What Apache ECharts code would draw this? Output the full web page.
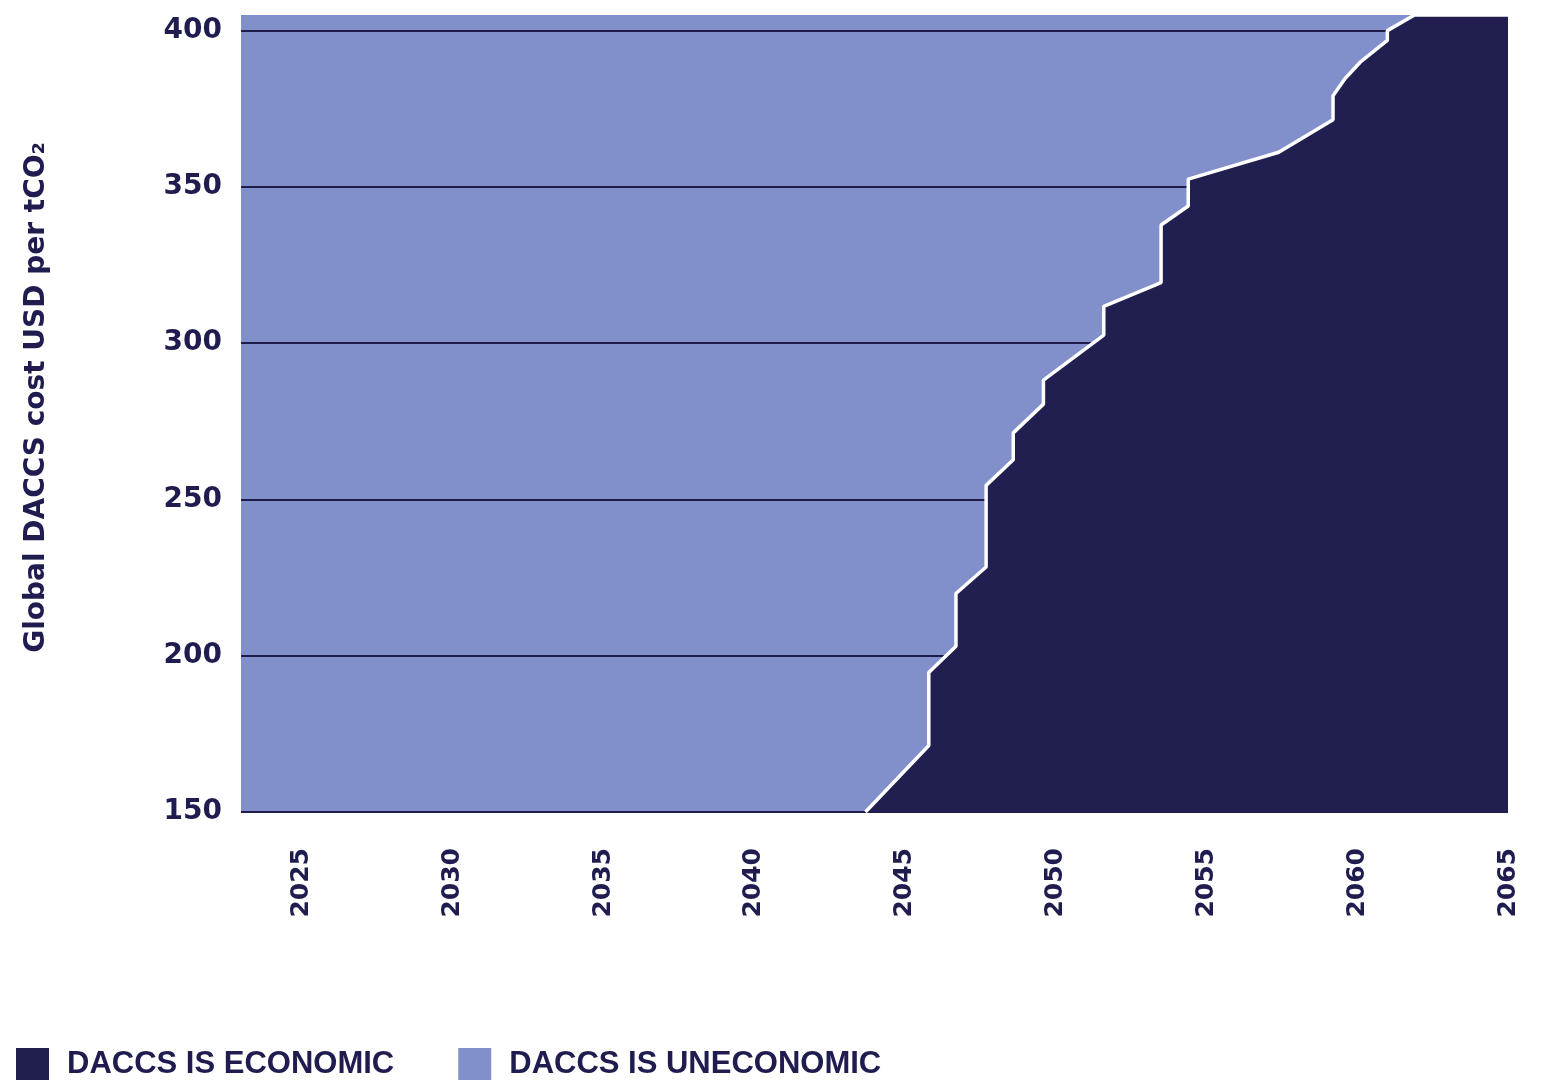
<!DOCTYPE html>
<html>
<head>
<meta charset="utf-8">
<script src="https://cdn.jsdelivr.net/npm/echarts@6/dist/echarts.min.js"></script>
<style>
  html, body { margin: 0; padding: 0; background: #ffffff; }
  #chart { width: 1546px; height: 1081px; }
</style>
</head>
<body>
<div id="chart"></div>
<script>
// Boundary between economic / uneconomic DACCS (year, USD per tCO2)
const boundaryYears = [2043.7, 2045.8, 2045.8, 2046.7, 2046.7, 2047.7, 2047.7, 2048.6, 2048.6, 2049.6, 2049.6, 2051.6, 2051.6, 2053.5, 2053.5, 2054.4, 2054.4, 2057.4, 2059.2, 2059.2, 2059.6, 2060.1, 2061.0, 2061.0, 2061.9, 2065];
const boundaryCost  = [150, 171.3, 194.6, 203, 219.9, 228.4, 254.5, 262.7, 271.3, 280.5, 288.2, 302.6, 311.8, 319.4, 337.8, 343.9, 352.5, 361.1, 371.5, 379.2, 384.7, 389.9, 396.9, 400, 405, 405];
const xTickLabels = [2025, 2030, 2035, 2040, 2045, 2050, 2055, 2060, 2065];
const yTickLabels = [150, 200, 250, 300, 350, 400];
const seriesNames = ['DACCS IS ECONOMIC', 'DACCS IS UNECONOMIC'];
const xRange = [2023, 2065];
const yRange = [150, 405];

const DARK = '#211f50';
const LIGHT = '#8190cb';
const TEXT = '#1f1d4f';

const boundaryData = boundaryYears.map((y, i) => [y, boundaryCost[i]]);
const fullData = [[xRange[0], yRange[1]], [xRange[1], yRange[1]]];

const chart = echarts.init(document.getElementById('chart'), null, { renderer: 'canvas' });
chart.setOption({
  backgroundColor: '#ffffff',
  animation: false,
  grid: { left: 241, right: 38, top: 15, bottom: 269, containLabel: false },
  legend: {
    data: seriesNames,
    left: 16,
    top: 1048,
    padding: 0,
    orient: 'horizontal',
    icon: 'rect',
    itemWidth: 33,
    itemHeight: 32,
    itemGap: 64,
    itemStyle: { borderWidth: 0 },
    textStyle: {
      color: TEXT,
      fontSize: 31,
      fontWeight: 'bold',
      fontFamily: 'Liberation Sans, Arial, sans-serif',
      padding: [0, 0, 0, 13]
    }
  },
  xAxis: {
    type: 'value',
    min: xRange[0],
    max: xRange[1],
    axisLine: { show: false },
    axisTick: { show: false },
    splitLine: { show: false },
    axisLabel: {
      customValues: xTickLabels,
      rotate: 90,
      margin: 36,
      color: TEXT,
      fontSize: 25,
      fontWeight: 'bold',
      fontFamily: 'DejaVu Sans, sans-serif',
      formatter: v => String(v)
    }
  },
  yAxis: {
    type: 'value',
    min: yRange[0],
    max: yRange[1],
    interval: 50,
    z: 1,
    name: 'Global DACCS cost USD per tCO₂',
    nameLocation: 'middle',
    nameRotate: 90,
    nameGap: 190,
    nameTextStyle: {
      color: TEXT,
      fontSize: 28,
      fontWeight: 'bold',
      fontFamily: 'DejaVu Sans, sans-serif',
      padding: [0, 0, 0, 32]
    },
    axisLine: { show: false },
    axisTick: { show: false },
    axisLabel: {
      showMaxLabel: false,
      margin: 19,
      color: TEXT,
      fontSize: 28,
      fontWeight: 'bold',
      fontFamily: 'DejaVu Sans, sans-serif'
    },
    splitLine: {
      show: true,
      showMaxLine: false,
      lineStyle: { color: '#1d1c4a', width: 2 }
    }
  },
  series: [
    {
      name: seriesNames[0],
      type: 'line',
      z: 3,
      data: boundaryData,
      symbol: 'none',
      color: DARK,
      itemStyle: { color: DARK },
      lineStyle: { color: '#ffffff', width: 3.5 },
      areaStyle: { color: DARK, opacity: 1, origin: 'start' }
    },
    {
      name: seriesNames[1],
      type: 'line',
      z: 0,
      data: fullData,
      symbol: 'none',
      color: LIGHT,
      itemStyle: { color: LIGHT },
      lineStyle: { width: 0, color: LIGHT },
      areaStyle: { color: LIGHT, opacity: 1, origin: 'start' }
    }
  ]
});
</script>
</body>
</html>
